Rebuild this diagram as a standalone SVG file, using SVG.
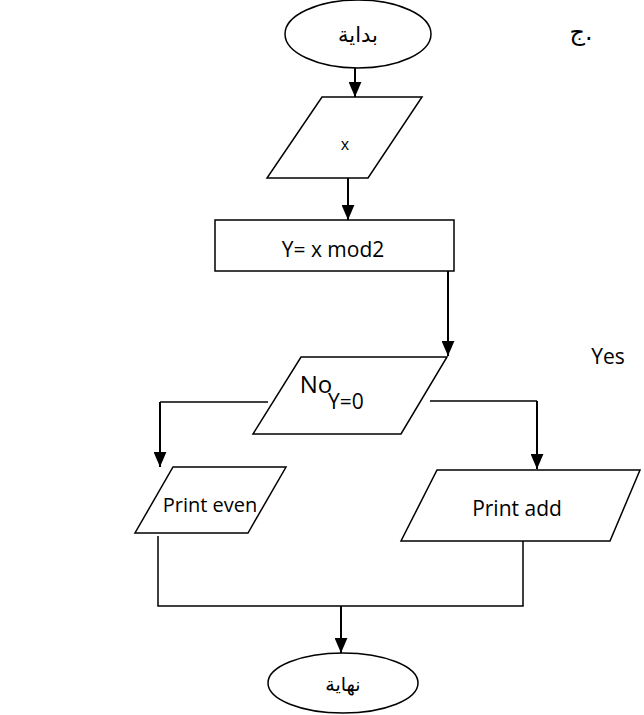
<svg xmlns="http://www.w3.org/2000/svg" width="644" height="715" viewBox="0 0 644 715">
<defs>
<style>
.s{fill:#fff;stroke:#000;stroke-width:1.5}
.c{fill:none;stroke:#000;stroke-width:2}
.l{fill:none;stroke:#000;stroke-width:1.5}
.t{font-family:"Open Sans","DejaVu Sans",sans-serif;fill:#000;text-anchor:middle}
.a{font-family:"DejaVu Sans",sans-serif;fill:#000;text-anchor:middle}
</style>
<marker id="ah2" viewBox="0 0 14 12" refX="14" refY="6" markerWidth="15" markerHeight="13" markerUnits="userSpaceOnUse" orient="auto">
<path d="M0,0 L14,6 L0,12 z" fill="#000"/>
</marker>
</defs>
<rect width="644" height="715" fill="#fff"/>
<g id="connectors">
<line class="c" x1="355" y1="68" x2="355" y2="97" marker-end="url(#ah2)"/>
<line class="c" x1="348" y1="175" x2="348" y2="220" marker-end="url(#ah2)"/>
<polyline class="c" points="448,271 448,356" marker-end="url(#ah2)"/>
<polyline class="l" points="268,402 160,402"/>
<line class="c" x1="160" y1="402" x2="160" y2="467" marker-end="url(#ah2)"/>
<polyline class="l" points="430,401 537,401"/>
<line class="c" x1="537" y1="401" x2="537" y2="469" marker-end="url(#ah2)"/>
<polyline class="l" points="158,536 158,606 523,606 523,541"/>
<line class="c" x1="341" y1="606" x2="341" y2="653" marker-end="url(#ah2)"/>
</g>
<g id="start">
<ellipse class="s" cx="358" cy="34" rx="73" ry="34"/>
<text class="a" x="358" y="42" font-size="21">بداية</text>
</g>
<g id="label-jim">
<text class="a" x="581" y="40" font-size="24">ج.</text>
</g>
<g id="input-x">
<polygon class="s" points="322,97 422,97 368,178 267,178"/>
<text class="t" x="345" y="150" font-size="16">x</text>
</g>
<g id="process">
<rect class="s" x="215" y="220" width="239" height="51"/>
<text class="t" x="333" y="257" font-size="21">Y= x mod2</text>
</g>
<g id="decision">
<polygon class="s" points="301,357 447,357 401,434 253,434"/>
<text class="t" x="316" y="393" font-size="24">No</text>
<text class="t" x="346" y="409" font-size="21">Y=0</text>
</g>
<g id="label-yes">
<text class="t" x="608" y="364" font-size="21">Yes</text>
</g>
<g id="print-even">
<polygon class="s" points="173,467 286,467 248,533 135,533"/>
<text class="t" x="210" y="512" font-size="20">Print even</text>
</g>
<g id="print-add">
<polygon class="s" points="437,470 640,470 610,541 401,541"/>
<text class="t" x="517" y="516" font-size="21">Print add</text>
</g>
<g id="end">
<ellipse class="s" cx="343" cy="683" rx="75" ry="30"/>
<text class="a" x="343" y="691" font-size="19">نهاية</text>
</g>
</svg>
